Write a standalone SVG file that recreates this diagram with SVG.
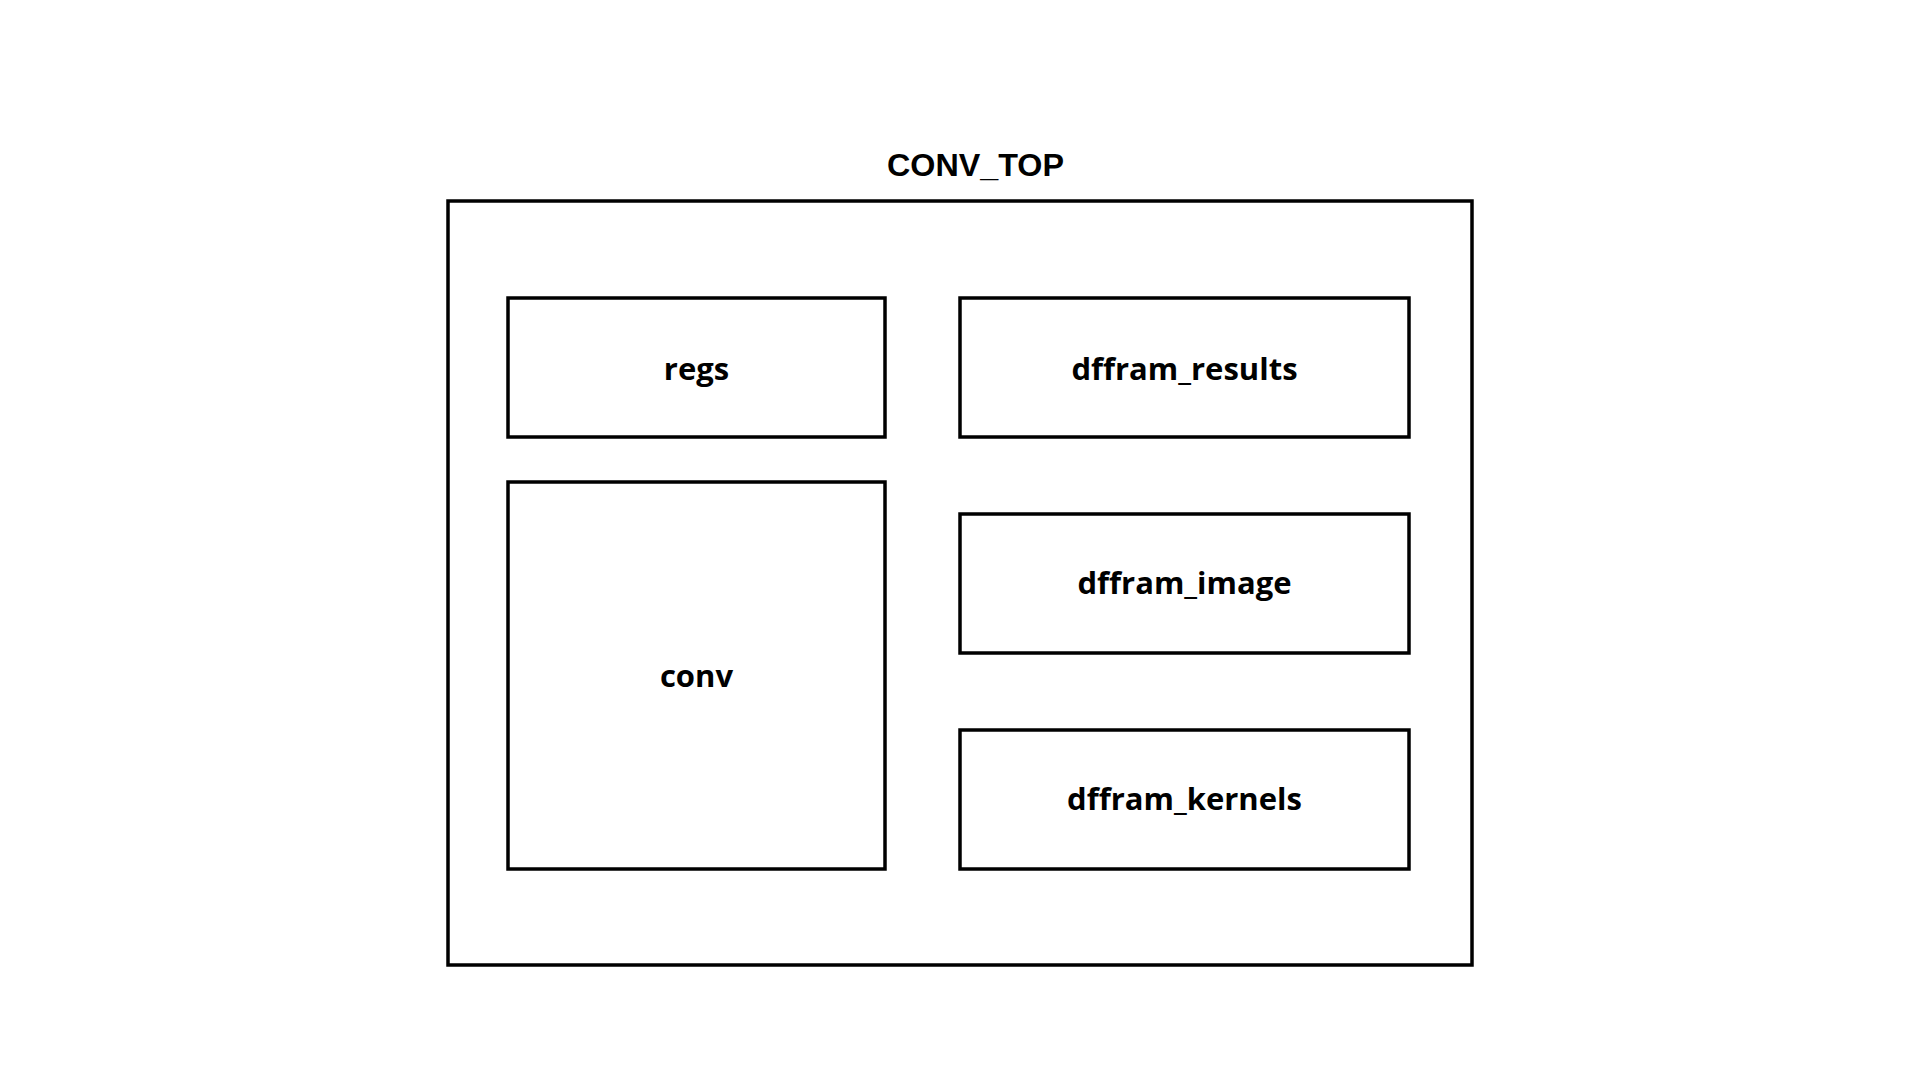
<svg xmlns="http://www.w3.org/2000/svg" width="1920" height="1080" viewBox="0 0 1920 1080">
<style>
.box{fill:#fff;stroke:#000;stroke-width:3.5}
.lbl{font-family:"Open Sans","Noto Sans",sans-serif;font-weight:700;font-size:31px;fill:#000;text-anchor:middle}
.title{font-family:"Liberation Sans",Arial,sans-serif;font-weight:700;font-size:31px;fill:#000}
</style>
<rect width="1920" height="1080" fill="#fff"/>
<g id="conv_top">
<rect class="box" x="448" y="201" width="1024" height="764"/>
<text class="title" x="887" y="176" textLength="177" lengthAdjust="spacingAndGlyphs">CONV_TOP</text>
</g>
<g id="regs">
<rect class="box" x="508" y="298" width="377" height="139"/>
<text class="lbl" x="696.5" y="380">regs</text>
</g>
<g id="conv">
<rect class="box" x="508" y="482" width="377" height="387"/>
<text class="lbl" x="696.5" y="687">conv</text>
</g>
<g id="dffram_results">
<rect class="box" x="960" y="298" width="449" height="139"/>
<text class="lbl" x="1184.5" y="380">dffram_results</text>
</g>
<g id="dffram_image">
<rect class="box" x="960" y="514" width="449" height="139"/>
<text class="lbl" x="1184.5" y="594">dffram_image</text>
</g>
<g id="dffram_kernels">
<rect class="box" x="960" y="730" width="449" height="139"/>
<text class="lbl" x="1184.5" y="810">dffram_kernels</text>
</g>
<g id="connectors"/>
</svg>
